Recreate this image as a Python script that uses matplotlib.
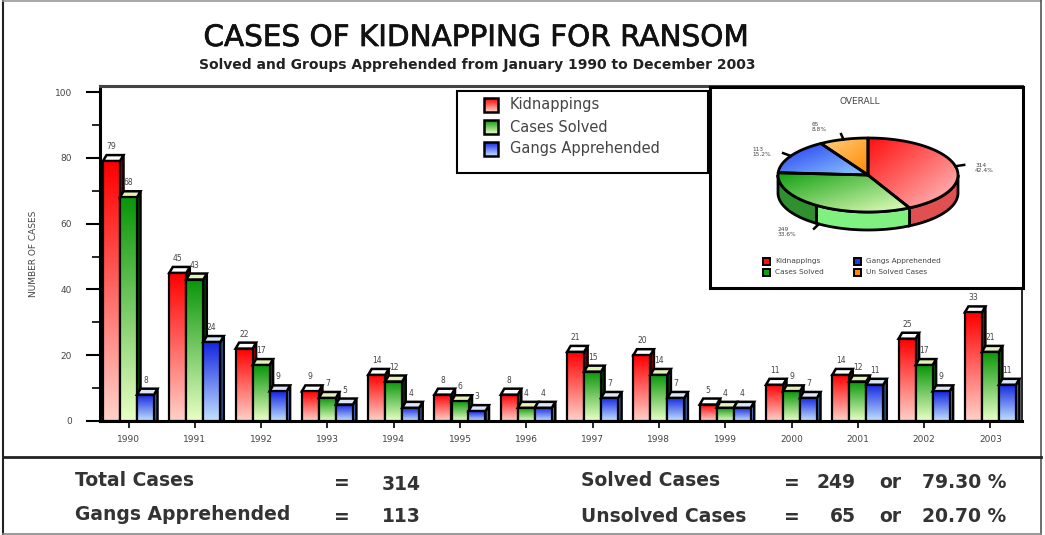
#!/usr/bin/env python3
"""Cases of kidnapping for ransom: fake-3D gradient bars with an inset pie."""

import matplotlib.patheffects as pe
import matplotlib.pyplot as plt
import numpy as np
from matplotlib.colors import LinearSegmentedColormap
from matplotlib.patches import Polygon, Rectangle

years = ["1990", "1991", "1992", "1993", "1994", "1995", "1996",
         "1997", "1998", "1999", "2000", "2001", "2002", "2003"]
kidnappings = [79, 45, 22, 9, 14, 8, 8, 21, 20, 5, 11, 14, 25, 33]
cases_solved = [68, 43, 17, 7, 12, 6, 4, 15, 14, 4, 9, 12, 17, 21]
gangs_apprehended = [8, 24, 9, 5, 4, 3, 4, 7, 7, 4, 7, 11, 9, 11]

series_names = ["Kidnappings", "Cases Solved", "Gangs Apprehended"]
pie_names = ["Kidnappings", "Cases Solved", "Gangs Apprehended", "Un Solved Cases"]
pie_values = [314, 249, 113, 65]

W, H = 1045, 535
TEXT = "#444444"

# gradient (top, bottom), side face, roof
BAR_STYLE = {
    "Kidnappings": ("#ff0000", "#ffd0c8", "#c00000", "#ffffff"),
    "Cases Solved": ("#0a960a", "#e8ffc4", "#005a00", "#e4f2b8"),
    "Gangs Apprehended": ("#1426e0", "#c0e0ff", "#4f7fd8", "#dce6f4"),
}
PIE_STYLE = [
    ("#ff1010", "#ffc4c4", "#e05050"),
    ("#10a010", "#e8ffc0", "#80f080"),
    ("#2038f0", "#90ccff", "#2038f0"),
    ("#ffd080", "#ff8800", "#ff8800"),
]


def ramp(top, bottom):
    return LinearSegmentedColormap.from_list("ramp", [top, bottom])


def px_x(x):
    return x / W


def px_y(y):
    return 1 - y / H


fig = plt.figure(figsize=(W / 100, H / 100), dpi=100, facecolor="white")

# ---------------------------------------------------------------------------
# Bars
# ---------------------------------------------------------------------------
left, right, top, bottom = 100, 1022, 86, 421
ax = fig.add_axes([px_x(left), px_y(bottom), (right - left) / W, (bottom - top) / H])
ax.set_facecolor("white")

step = 66.3
unit = 3.29  # pixels per case
bar_w = 17 / step
dx, dy = 3.5 / step, 6 / unit
x_pos = np.arange(len(years))
gradient = np.linspace(0, 1, 64).reshape(-1, 1)

for s, (name, vals) in enumerate(zip(series_names, [kidnappings, cases_solved, gangs_apprehended])):
    c_top, c_bot, c_side, c_roof = BAR_STYLE[name]
    for x, v in zip(x_pos + (s - 1) * bar_w, vals):
        l, r = x - bar_w / 2, x + bar_w / 2
        ax.add_patch(Polygon([(r, 0), (r + dx, 0), (r + dx, v + dy), (r, v)],
                             fc=c_side, ec="black", lw=1.8, zorder=2 + s))
        ax.add_patch(Polygon([(l, v), (l + dx, v + dy), (r + dx, v + dy), (r, v)],
                             fc=c_roof, ec="black", lw=1.8, zorder=2 + s))
        ax.imshow(gradient, extent=(l, r, 0, v), aspect="auto", origin="upper",
                  cmap=ramp(c_top, c_bot), zorder=2 + s, interpolation="bilinear")
        ax.bar(x, v, width=bar_w, fill=False, edgecolor="black", linewidth=1.6, zorder=2 + s)
        ax.text(x, v + dy + 1.2, str(v), ha="center", va="bottom", fontsize=5.5,
                color=TEXT, zorder=6)

ax.set_xlim(-28.5 / step, (right - left - 28.5) / step)
ax.set_ylim(0, (bottom - top) / unit)
ax.set_xticks(x_pos)
ax.set_xticklabels(years, fontsize=6.5, color=TEXT)
ax.set_yticks(range(0, 101, 20))
ax.set_yticklabels([str(v) for v in range(0, 101, 20)], fontsize=6.5, color=TEXT)
ax.set_yticks(range(10, 100, 20), minor=True)
ax.tick_params(axis="y", which="major", length=10, width=1.5, pad=10)
ax.tick_params(axis="y", which="minor", length=6, width=1.2)
ax.tick_params(axis="x", length=5, width=1.2, pad=5)
for side in ("left", "bottom", "top", "right"):
    ax.spines[side].set_linewidth(2.2 if side != "right" else 1.2)
ax.spines["top"].set_color("#444444")
ax.set_ylabel("NUMBER OF CASES", fontsize=6.5, color=TEXT, labelpad=12)

# ---------------------------------------------------------------------------
# Overlay in pixel coordinates: frame, titles, legend, pie, totals
# ---------------------------------------------------------------------------
ov = fig.add_axes([0, 0, 1, 1], zorder=5)
ov.patch.set_visible(False)
ov.axis("off")

ov.plot([3, 3], [0, H], color="#222222", lw=1.5)
ov.plot([3, 1041], [1, 1], color="#999999", lw=1.2)
ov.plot([1041, 1041], [0, H], color="#555555", lw=1.2)
ov.plot([3, 1041], [457, 457], color="#222222", lw=2)
ov.plot([3, 1041], [534, 534], color="#888888", lw=1.2)

ov.text(475, 38, "CASES OF KIDNAPPING FOR RANSOM", ha="center", va="center",
        fontsize=21.2, color="#111111",
        path_effects=[pe.withStroke(linewidth=0.5, foreground="#111111")])
ov.text(477, 65, "Solved and Groups Apprehended from January 1990 to December 2003",
        ha="center", va="center", fontsize=10, fontweight="bold", color="#222222")

# legend box
ov.add_patch(Rectangle((457, 91), 251, 82, fc="white", ec="black", lw=1.5))
for i, name in enumerate(series_names):
    yc = 105 + i * 22
    c_top, c_bot, _, _ = BAR_STYLE[name]
    ov.imshow(gradient, extent=(484, 498, yc + 7, yc - 7), aspect="auto", origin="upper",
              cmap=ramp(c_top, c_bot), zorder=3, interpolation="bilinear")
    ov.add_patch(Rectangle((484, yc - 7), 14, 14, fill=False, ec="black", lw=1.8, zorder=4))
    ov.text(510, yc, name, va="center", fontsize=10.5, color=TEXT, zorder=4)

# pie box
ov.add_patch(Rectangle((710, 87), 313, 201, fc="white", ec="black", lw=2.2, zorder=3))
ov.text(860, 102, "OVERALL", ha="center", va="center", fontsize=6.5, color=TEXT, zorder=4)

cx, cy, rx, ry, depth = 868, 175, 90, 37, 18
fractions = np.array(pie_values) / sum(pie_values)
edges = np.concatenate([[0], np.cumsum(fractions)]) * 2 * np.pi
wall_split = np.deg2rad(215)


def rim(theta, drop=0.0):
    return np.column_stack([cx + rx * np.sin(theta), cy - ry * np.cos(theta) + drop])


def wall(a, b, colour):
    a, b = max(a, np.pi / 2), min(b, 3 * np.pi / 2)
    if a >= b:
        return
    t = np.linspace(a, b, 60)
    pts = np.vstack([rim(t), rim(t, depth)[::-1]])
    ov.fill(pts[:, 0], pts[:, 1], facecolor=colour, edgecolor="black", linewidth=2, zorder=4.5)


wall(edges[0], edges[1], PIE_STYLE[0][2])
wall(edges[1], wall_split, PIE_STYLE[1][2])
wall(wall_split, edges[2], "#309030")

for i in range(len(pie_values)):
    t = np.linspace(edges[i], edges[i + 1], 80)
    pts = np.vstack([[cx, cy], rim(t)])
    u, v = np.meshgrid(np.linspace(0, 1, 64), np.linspace(0, 1, 64))
    shade = (u + v) / 2
    x0, y0 = pts.min(axis=0)
    x1, y1 = pts.max(axis=0)
    im = ov.imshow(shade, extent=(x0, x1, y1, y0), aspect="auto", origin="upper",
                   cmap=ramp(PIE_STYLE[i][0], PIE_STYLE[i][1]), zorder=5,
                   interpolation="bilinear")
    clip = Polygon(pts, fc="none", ec="none", transform=ov.transData)
    im.set_clip_path(clip)

# outlines go on after all the wedge images
for i in range(len(pie_values)):
    t = np.linspace(edges[i], edges[i + 1], 80)
    pts = np.vstack([[cx, cy], rim(t), [cx, cy]])
    ov.plot(pts[:, 0], pts[:, 1], color="black", lw=2, zorder=8)

label_pos = [(975, 168), (778, 232), (752, 152), (812, 127)]
for i, (value, frac) in enumerate(zip(pie_values, fractions)):
    mid = (edges[i] + edges[i + 1]) / 2
    drop = depth if np.pi / 2 < mid < 3 * np.pi / 2 else 0
    mx, my = np.sin(mid), -np.cos(mid)
    ov.plot([cx + rx * mx, cx + 1.1 * rx * mx], [cy + ry * my + drop, cy + 1.15 * ry * my + drop],
            color="black", lw=1.8, zorder=8)
    ov.text(*label_pos[i], f"{value}\n{frac * 100:.1f}%", ha="left", va="center",
            fontsize=4.2, color=TEXT, zorder=8, linespacing=1.1)

swatch_pos = [(766, 261), (766, 272), (857, 261), (857, 272)]
for name, style, (sx, sy) in zip(pie_names, PIE_STYLE, swatch_pos):
    swatch = "#ff8800" if name == "Un Solved Cases" else style[0]
    ov.add_patch(Rectangle((sx - 3, sy - 3), 7, 7, fc=swatch, ec="black", lw=1.4, zorder=6))
    ov.text(sx + 9, sy, name, va="center", fontsize=5.3, color=TEXT, zorder=6)

# totals
totals = [
    (75, 481, "Total Cases"), (75, 514, "Gangs Apprehended"),
    (334, 484, "="), (334, 517, "="), (382, 484, "314"), (382, 517, "113"),
    (581, 481, "Solved Cases"), (581, 517, "Unsolved Cases"),
    (784, 484, "="), (784, 517, "="),
    (817, 483, "249"), (830, 517, "65"),
    (879, 483, "or"), (879, 517, "or"),
    (922, 483, "79.30 %"), (922, 517, "20.70 %"),
]
for x, y, label in totals:
    ov.text(x, y, label, va="center", fontsize=13.5, fontweight="bold", color="#333333")

ov.set_xlim(0, W)
ov.set_ylim(H, 0)

fig.savefig("out.png", dpi=100, facecolor="white")
